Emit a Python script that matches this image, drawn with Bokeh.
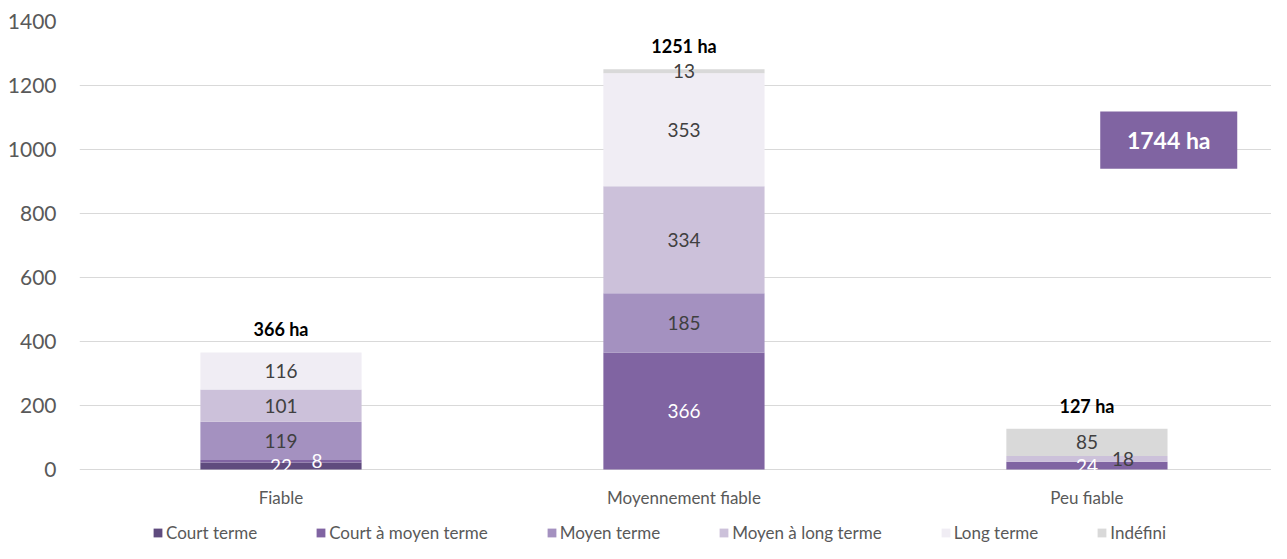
from bokeh.plotting import figure
from bokeh.models import Range1d, ColumnDataSource, Legend, LegendItem, FixedTicker
from bokeh.core.properties import value
from bokeh.embed import file_html
from bokeh.resources import INLINE

categories = ["Fiable", "Moyennement fiable", "Peu fiable"]
series = ["Court terme", "Court à moyen terme", "Moyen terme",
          "Moyen à long terme", "Long terme", "Indéfini"]
court_terme = [22, 0, 0]
court_moyen_terme = [8, 366, 24]
moyen_terme = [119, 185, 0]
moyen_long_terme = [101, 334, 18]
long_terme = [116, 353, 0]
indefini = [0, 13, 85]
y_ticks = [0, 200, 400, 600, 800, 1000, 1200, 1400]

values = [court_terme, court_moyen_terme, moyen_terme, moyen_long_terme, long_terme, indefini]
colors = ["#5f4b7e", "#8064a2", "#a491c0", "#ccc1da", "#f0edf4", "#d9d9d9"]
label_colors = ["#ffffff", "#ffffff", "#404040", "#404040", "#404040", "#404040"]
# small segments whose labels were pushed sideways (pixels)
label_nudge = {("Fiable", "Court à moyen terme"): 36, ("Peu fiable", "Moyen à long terme"): 36}

FONT = "Lato"
GREY = "#595959"

xs = [i + 0.5 for i in range(len(categories))]

# frame: 448 px for 0..1400, extended below 0 to hold category labels and legend
p = figure(x_range=Range1d(0, 2.958), y_range=Range1d(-231.25, 1400),
           width=1271, height=543, output_backend="svg", toolbar_location=None,
           min_border_left=79, min_border_right=0, min_border_top=21, min_border_bottom=0)
p.outline_line_color = None
p.background_fill_color = "white"
p.xaxis.visible = False

data = {"x": xs}
for s, v in zip(series, values):
    data[s] = v
src = ColumnDataSource(data)
renderers = p.vbar_stack(series, x="x", width=0.4, color=colors, line_color=None, source=src)

# segment labels
lx, ly, lt, lc, lo = [], [], [], [], []
for i, c in enumerate(categories):
    base = 0
    for j, s in enumerate(series):
        v = values[j][i]
        if v > 0:
            lx.append(xs[i])
            ly.append(base + v / 2)
            lt.append(str(v))
            lc.append(label_colors[j])
            lo.append(label_nudge.get((c, s), 0))
        base += v
p.text(x=lx, y=ly, text=lt, text_color=lc, x_offset=lo, text_align="center",
       text_baseline="middle", text_font=value(FONT), text_font_size="19px")

# totals
totals = [sum(values[j][i] for j in range(len(series))) for i in range(len(categories))]
p.text(x=xs, y=totals, text=[f"{t} ha" for t in totals], y_offset=-23,
       text_align="center", text_baseline="middle", text_font=value(FONT),
       text_font_size="18px", text_font_style="bold", text_color="#000000")

# grand total box
grand = sum(totals)
p.quad(left=[2.533], right=[2.873], bottom=[940], top=[1119],
       fill_color="#8064a2", line_color=None)
p.text(x=[2.703], y=[1029.5], text=[f"{grand} ha"], text_align="center",
       text_baseline="middle", text_font=value(FONT), text_font_size="23px",
       text_font_style="bold", text_color="#ffffff")

# category labels under the baseline
p.text(x=xs, y=[0] * len(xs), text=categories, y_offset=28, text_align="center",
       text_baseline="middle", text_font=value(FONT), text_font_size="17px",
       text_color=GREY)

# y axis
p.yaxis.ticker = FixedTicker(ticks=y_ticks)
p.yaxis.axis_line_color = None
p.yaxis.major_tick_line_color = None
p.yaxis.minor_tick_line_color = None
p.yaxis.major_label_standoff = 17
p.yaxis.major_label_text_font = FONT
p.yaxis.major_label_text_font_size = "21px"
p.yaxis.major_label_text_color = GREY

p.xgrid.grid_line_color = None
p.ygrid.grid_line_color = "#d9d9d9"
p.ygrid.grid_line_width = 1

legend = Legend(items=[LegendItem(label=s, renderers=[r]) for s, r in zip(series, renderers)],
                orientation="horizontal", location=(73, 0))
legend.border_line_color = None
legend.background_fill_alpha = 0
legend.padding = 0
legend.margin = 0
legend.spacing = 58
legend.glyph_width = 11
legend.glyph_height = 11
legend.label_standoff = 3
legend.label_height = 18
legend.label_text_font = FONT
legend.label_text_font_size = "17px"
legend.label_text_color = GREY
p.add_layout(legend)

open("out.html", "w").write(file_html(p, INLINE))
